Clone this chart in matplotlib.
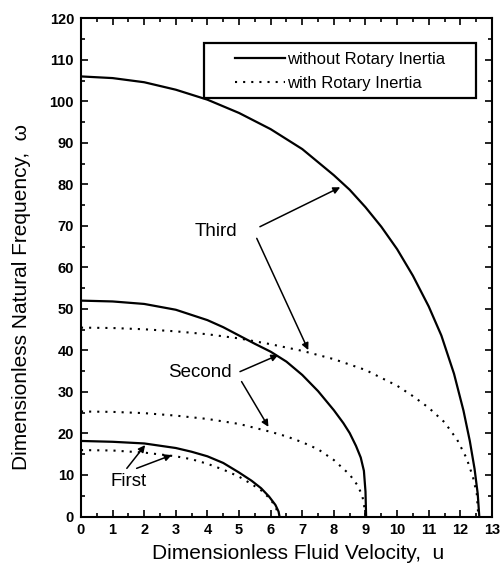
import matplotlib
matplotlib.use("Agg")
import matplotlib.pyplot as plt
from matplotlib.ticker import MultipleLocator
from matplotlib.patches import Rectangle

plt.rcParams['font.family'] = ['Liberation Sans', 'DejaVu Sans']

# values
u_first = [0, 1, 2, 3, 3.5, 4, 4.5, 5, 5.4, 5.7, 5.95, 6.15, 6.25, 6.28]
w_first = [18.2, 18.0, 17.6, 16.5, 15.6, 14.5, 12.9, 10.6, 8.6, 6.8, 4.8, 2.8, 1.2, 0]
u_first_ri = [0, 1, 2, 3, 3.5, 4, 4.5, 5, 5.4, 5.7, 5.95, 6.1, 6.2, 6.25]
w_first_ri = [16.0, 15.9, 15.4, 14.5, 13.8, 12.7, 11.3, 9.6, 7.8, 6.3, 4.5, 3.0, 1.5, 0]

u_second = [0, 1, 2, 3, 4, 4.5, 5, 5.5, 6, 6.5, 7, 7.5, 8, 8.3, 8.5, 8.7, 8.85, 8.95, 9.0, 9.02]
w_second = [52, 51.8, 51.2, 49.8, 47.3, 45.6, 43.6, 41.6, 39.7, 37.3, 34.1, 30.2, 25.6, 22.5, 20.1, 17.0, 14.2, 11.0, 6, 0]
u_second_ri = [0, 1, 2, 3, 4, 5, 6, 6.5, 7, 7.5, 8, 8.5, 8.75, 8.9, 8.97, 9.0]
w_second_ri = [25.3, 25.2, 24.9, 24.3, 23.5, 22.3, 20.4, 19.3, 17.9, 16.2, 13.6, 10.1, 7.5, 5, 2, 0]

u_third = [0, 1, 2, 3, 4, 5, 6, 7, 8, 8.5, 9, 9.5, 10, 10.5, 11, 11.4, 11.8, 12.1, 12.3, 12.45, 12.55, 12.6]
w_third = [106, 105.6, 104.6, 102.8, 100.4, 97.2, 93.3, 88.5, 82.2, 78.7, 74.5, 69.8, 64.4, 58.0, 50.6, 43.6, 34.4, 25.5, 18.2, 11.5, 5.5, 0]
u_third_ri = [0, 1, 2, 3, 4, 5, 6, 7, 8, 9, 10, 10.5, 11, 11.5, 11.9, 12.2, 12.4, 12.52, 12.57]
w_third_ri = [45.5, 45.4, 45.1, 44.6, 43.9, 42.9, 41.5, 39.9, 37.9, 35.3, 31.5, 29.0, 26.2, 22.7, 18.5, 14.0, 9.5, 5.5, 0]

fig = plt.figure(figsize=(5.03, 5.72), dpi=100)
ax = fig.add_axes([0.161, 0.097, 0.817, 0.871])

dots = (0, (1, 2.9))
ax.plot(u_third, w_third, 'k-', lw=1.6, label="without Rotary Inertia")
ax.plot(u_third_ri, w_third_ri, color='k', ls=dots, lw=1.5, label="with Rotary Inertia")
ax.plot(u_second, w_second, 'k-', lw=1.6)
ax.plot(u_second_ri, w_second_ri, color='k', ls=dots, lw=1.5)
ax.plot(u_first, w_first, 'k-', lw=1.6)
ax.plot(u_first_ri, w_first_ri, color='k', ls=dots, lw=1.5)

arrow = dict(arrowstyle='-|>', color='k', lw=1.1, mutation_scale=10, shrinkA=0, shrinkB=0)
ax.text(4.27, 68.6, "Third", ha='center', va='center', fontsize=13.5)
ax.annotate("", xy=(8.2, 79.3), xytext=(5.66, 69.8), arrowprops=arrow)
ax.annotate("", xy=(7.19, 40.1), xytext=(5.56, 67.0), arrowprops=arrow)
ax.text(3.77, 34.6, "Second", ha='center', va='center', fontsize=13.5)
ax.annotate("", xy=(6.24, 38.9), xytext=(5.03, 34.9), arrowprops=arrow)
ax.annotate("", xy=(5.93, 21.6), xytext=(5.08, 32.5), arrowprops=arrow)
ax.text(1.5, 8.4, "First", ha='center', va='center', fontsize=13.5)
ax.annotate("", xy=(2.03, 17.2), xytext=(1.45, 11.6), arrowprops=arrow)
ax.annotate("", xy=(2.87, 14.8), xytext=(1.76, 11.6), arrowprops=arrow)

ax.set_xlim(0, 13)
ax.set_ylim(0, 120)
ax.xaxis.set_major_locator(MultipleLocator(1))
ax.xaxis.set_minor_locator(MultipleLocator(0.5))
ax.yaxis.set_major_locator(MultipleLocator(10))
ax.yaxis.set_minor_locator(MultipleLocator(5))
ax.tick_params(which='both', direction='in', top=True, right=True, width=1.2)
ax.tick_params(which='major', length=5, labelsize=10.5, pad=5)
ax.tick_params(which='minor', length=3)
for lab in ax.get_xticklabels() + ax.get_yticklabels():
    lab.set_fontweight('bold')
for s in ax.spines.values():
    s.set_linewidth(1.5)

ax.set_xlabel("Dimensionless Fluid Velocity,  u", fontsize=15)
ax.set_ylabel("Dimensionless Natural Frequency,  \u03c9", fontsize=15)
ax.xaxis.set_label_coords(0.529, -0.056)
ax.yaxis.set_label_coords(-0.122, 0.44)

leg = ax.legend(loc='upper left', bbox_to_anchor=(0.3747, 0.932), fontsize=12,
                frameon=False, handlelength=3.0, handletextpad=0.15,
                borderpad=0, borderaxespad=0, labelspacing=0.53)
ax.add_patch(Rectangle((0.299, 0.840), 0.662, 0.110, transform=ax.transAxes,
                       fill=False, edgecolor='k', lw=1.6, zorder=5))

fig.savefig("out.png", dpi=100)
